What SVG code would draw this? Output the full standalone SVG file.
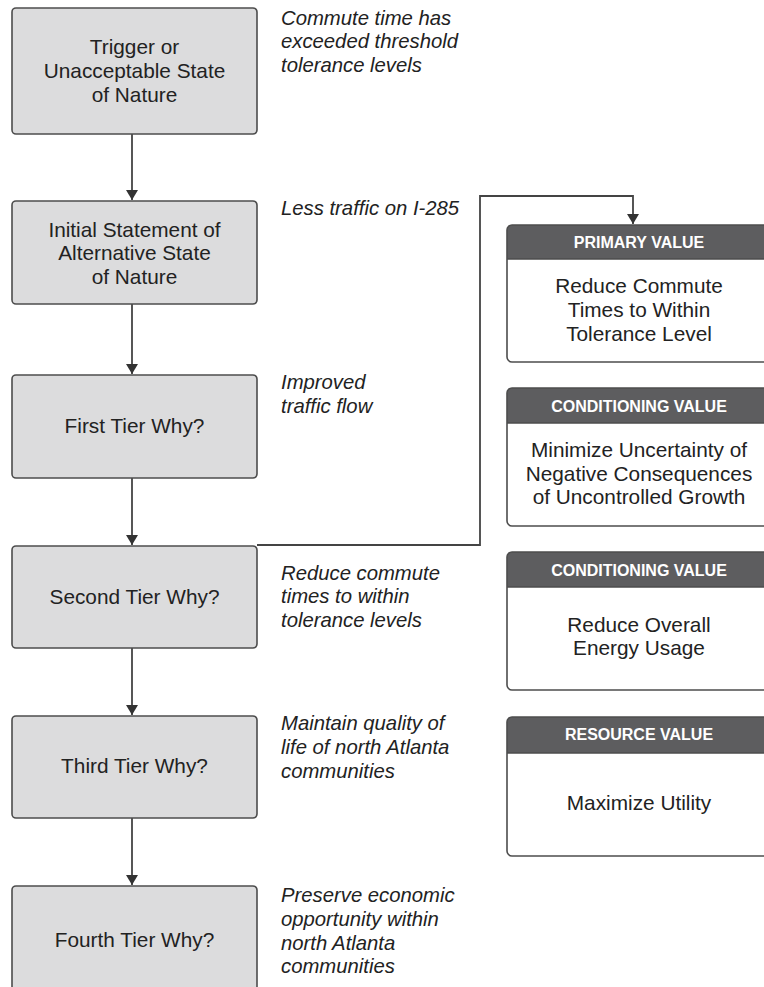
<svg xmlns="http://www.w3.org/2000/svg" width="764" height="987" viewBox="0 0 764 987">
  <defs>
    <marker id="arrow" viewBox="0 0 10 12" refX="10" refY="6" markerWidth="11" markerHeight="12" markerUnits="userSpaceOnUse" orient="auto">
      <path d="M0,0 L10,6 L0,12 Z" fill="#333"/>
    </marker>
    <style>
      .step { fill: #dcdcdd; stroke: #4d4d4d; stroke-width: 1.6; }
      .value { fill: #ffffff; stroke: none; }
      .frame { fill: none; stroke: #4d4d4d; stroke-width: 1.6; }
      .head { fill: #5d5d5f; }
      .label { font-family: "Liberation Sans", Arimo, Arial, Helvetica, sans-serif; font-size: 20.8px; fill: #222; text-anchor: middle; }
      .note { font-family: "Liberation Sans", Arimo, Arial, Helvetica, sans-serif; font-size: 20.3px; font-style: italic; fill: #222; }
      .headtxt { font-family: "Liberation Sans", Arimo, Arial, Helvetica, sans-serif; font-size: 16px; font-weight: bold; fill: #ffffff; text-anchor: middle; }
      .link { fill: none; stroke: #444; stroke-width: 1.8; }
    </style>
  </defs>
  <rect width="764" height="987" fill="#ffffff"/>

  <!-- connectors -->
  <g id="connectors">
    <path class="link" d="M132,134 V200" marker-end="url(#arrow)"/>
    <path class="link" d="M132,304 V374" marker-end="url(#arrow)"/>
    <path class="link" d="M132,478 V545" marker-end="url(#arrow)"/>
    <path class="link" d="M132,648 V715" marker-end="url(#arrow)"/>
    <path class="link" d="M132,818 V885" marker-end="url(#arrow)"/>
    <path class="link" d="M257,545 H480 V196 H633 V224" marker-end="url(#arrow)"/>
  </g>

  <!-- left column: why-chain -->
  <g id="trigger">
    <rect class="step" x="12" y="8" width="245" height="126" rx="4"/>
    <text class="label" x="134.5" y="54">Trigger or</text>
    <text class="label" x="134.5" y="78">Unacceptable State</text>
    <text class="label" x="134.5" y="102">of Nature</text>
  </g>
  <g id="initial-statement">
    <rect class="step" x="12" y="201" width="245" height="103" rx="4"/>
    <text class="label" x="134.5" y="237">Initial Statement of</text>
    <text class="label" x="134.5" y="260">Alternative State</text>
    <text class="label" x="134.5" y="284">of Nature</text>
  </g>
  <g id="first-tier">
    <rect class="step" x="12" y="375" width="245" height="103" rx="4"/>
    <text class="label" x="134.5" y="433">First Tier Why?</text>
  </g>
  <g id="second-tier">
    <rect class="step" x="12" y="546" width="245" height="102" rx="4"/>
    <text class="label" x="134.5" y="604">Second Tier Why?</text>
  </g>
  <g id="third-tier">
    <rect class="step" x="12" y="716" width="245" height="102" rx="4"/>
    <text class="label" x="134.5" y="773">Third Tier Why?</text>
  </g>
  <g id="fourth-tier">
    <rect class="step" x="12" y="886" width="245" height="110" rx="4"/>
    <text class="label" x="134.5" y="947">Fourth Tier Why?</text>
  </g>

  <!-- annotations -->
  <g id="notes">
    <text class="note" x="281" y="25">Commute time has</text>
    <text class="note" x="281" y="48">exceeded threshold</text>
    <text class="note" x="281" y="72">tolerance levels</text>
    <text class="note" x="281" y="215">Less traffic on I-285</text>
    <text class="note" x="281" y="389">Improved</text>
    <text class="note" x="281" y="413">traffic flow</text>
    <text class="note" x="281" y="580">Reduce commute</text>
    <text class="note" x="281" y="603">times to within</text>
    <text class="note" x="281" y="627">tolerance levels</text>
    <text class="note" x="281" y="730">Maintain quality of</text>
    <text class="note" x="281" y="754">life of north Atlanta</text>
    <text class="note" x="281" y="778">communities</text>
    <text class="note" x="281" y="902">Preserve economic</text>
    <text class="note" x="281" y="926">opportunity within</text>
    <text class="note" x="281" y="950">north Atlanta</text>
    <text class="note" x="281" y="973">communities</text>
  </g>

  <!-- right column: values -->
  <g id="primary-value">
    <rect class="value" x="507" y="225" width="264" height="137" rx="5"/>
    <path class="head" d="M512,225 H766 A5,5 0 0 1 771,230 V259 H507 V230 A5,5 0 0 1 512,225 Z"/>
    <line class="frame" x1="507" y1="259" x2="771" y2="259"/>
    <rect class="frame" x="507" y="225" width="264" height="137" rx="5"/>
    <text class="headtxt" x="639" y="248">PRIMARY VALUE</text>
    <text class="label" x="639" y="293">Reduce Commute</text>
    <text class="label" x="639" y="317">Times to Within</text>
    <text class="label" x="639" y="341">Tolerance Level</text>
  </g>
  <g id="conditioning-value-1">
    <rect class="value" x="507" y="388" width="264" height="138" rx="5"/>
    <path class="head" d="M512,388 H766 A5,5 0 0 1 771,393 V423 H507 V393 A5,5 0 0 1 512,388 Z"/>
    <line class="frame" x1="507" y1="423" x2="771" y2="423"/>
    <rect class="frame" x="507" y="388" width="264" height="138" rx="5"/>
    <text class="headtxt" x="639" y="412">CONDITIONING VALUE</text>
    <text class="label" x="639" y="457">Minimize Uncertainty of</text>
    <text class="label" x="639" y="481">Negative Consequences</text>
    <text class="label" x="639" y="504">of Uncontrolled Growth</text>
  </g>
  <g id="conditioning-value-2">
    <rect class="value" x="507" y="552" width="264" height="138" rx="5"/>
    <path class="head" d="M512,552 H766 A5,5 0 0 1 771,557 V587 H507 V557 A5,5 0 0 1 512,552 Z"/>
    <line class="frame" x1="507" y1="587" x2="771" y2="587"/>
    <rect class="frame" x="507" y="552" width="264" height="138" rx="5"/>
    <text class="headtxt" x="639" y="576">CONDITIONING VALUE</text>
    <text class="label" x="639" y="632">Reduce Overall</text>
    <text class="label" x="639" y="655">Energy Usage</text>
  </g>
  <g id="resource-value">
    <rect class="value" x="507" y="717" width="264" height="139" rx="5"/>
    <path class="head" d="M512,717 H766 A5,5 0 0 1 771,722 V753 H507 V722 A5,5 0 0 1 512,717 Z"/>
    <line class="frame" x1="507" y1="753" x2="771" y2="753"/>
    <rect class="frame" x="507" y="717" width="264" height="139" rx="5"/>
    <text class="headtxt" x="639" y="740">RESOURCE VALUE</text>
    <text class="label" x="639" y="810">Maximize Utility</text>
  </g>
</svg>
